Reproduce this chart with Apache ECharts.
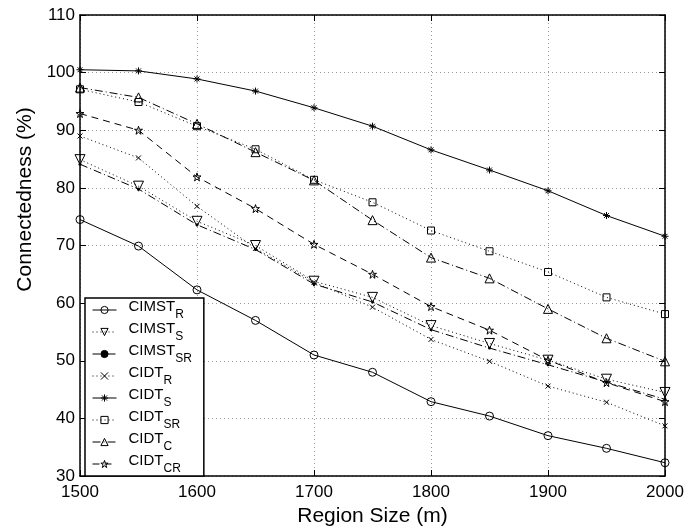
<!DOCTYPE html>
<html>
<head>
<meta charset="utf-8">
<script src="https://cdn.jsdelivr.net/npm/echarts@6/dist/echarts.min.js"></script>
<style>
  html, body { margin: 0; padding: 0; background: #fff; }
  #chart { width: 688px; height: 532px; }
</style>
</head>
<body>
<div id="chart"></div>
<script>
const regionSizes = [1500, 1550, 1600, 1650, 1700, 1750, 1800, 1850, 1900, 1950, 2000];

const cimstR  = [74.5, 69.9, 62.3, 57.0, 51.0, 48.0, 42.9, 40.4, 37.0, 34.8, 32.3];
const cimstS  = [84.9, 80.3, 74.2, 70.0, 63.8, 61.0, 56.1, 53.0, 50.1, 46.8, 44.5];
const cimstSR = [84.1, 79.8, 73.6, 69.3, 63.3, 60.2, 55.4, 52.2, 49.3, 46.3, 43.3];
const cidtR   = [89.0, 85.2, 76.8, 69.5, 63.6, 59.3, 53.7, 49.9, 45.6, 42.8, 38.7];
const cidtS   = [100.5, 100.3, 98.9, 96.8, 93.9, 90.7, 86.6, 83.1, 79.5, 75.2, 71.6];
const cidtSR  = [97.1, 94.9, 90.7, 86.7, 81.4, 77.5, 72.6, 69.0, 65.4, 61.0, 58.1];
const cidtC   = [97.4, 95.7, 91.1, 86.2, 81.3, 74.4, 67.9, 64.3, 59.0, 53.9, 49.9];
const cidtCR  = [92.9, 90.0, 81.9, 76.4, 70.2, 65.0, 59.4, 55.3, 50.1, 46.2, 42.9];

// marker outlines (unit boxes, stretched to symbolSize)
const SYM = {
  ring: 'path://M10,5 A5,5 0 1 1 0,5 A5,5 0 1 1 10,5 Z',
  down: 'path://M0,0 L10,0 L5,9 Z',
  up: 'path://M5,0 L10,9 L0,9 Z',
  square: 'path://M0,0 L10,0 L10,10 L0,10 Z',
  cross: 'path://M0,0 L10,10 M10,0 L0,10',
  aster: 'path://M5,0 L5,10 M0,5 L10,5 M1.5,1.5 L8.5,8.5 M8.5,1.5 L1.5,8.5',
  star: 'path://M5,0 L6.2,3.6 L10,3.6 L6.9,5.8 L8.1,9.5 L5,7.2 L1.9,9.5 L3.1,5.8 L0,3.6 L3.8,3.6 Z',
  dot: 'circle'
};

function mk(name, values, symbol, size, lineType, filled) {
  return {
    name: name,
    type: 'line',
    data: regionSizes.map((x, i) => [x, values[i]]),
    symbol: symbol,
    symbolSize: size,
    showAllSymbol: true,
    lineStyle: { color: '#000', width: 1, type: lineType },
    itemStyle: filled
      ? { color: '#000', borderColor: '#000', borderWidth: 0 }
      : { color: 'rgba(255,255,255,0)', borderColor: '#000', borderWidth: 1 },
    emphasis: { disabled: true },
    animation: false,
    z: 3
  };
}

const series = [
  mk('CIMST_R', cimstR, SYM.ring, 8, 'solid', false),
  mk('CIMST_S', cimstS, SYM.down, 10, [1, 3], false),
  mk('CIMST_SR', cimstSR, SYM.dot, 3, [8, 3, 1, 3], true),
  mk('CIDT_R', cidtR, SYM.cross, 5, [1, 3], false),
  mk('CIDT_S', cidtS, SYM.aster, 7, 'solid', false),
  mk('CIDT_SR', cidtSR, SYM.square, 7, [1, 3], false),
  mk('CIDT_C', cidtC, SYM.up, 9, [8, 3, 1, 3], false),
  mk('CIDT_CR', cidtCR, SYM.star, 8, [7, 5], false)
];

const font = 'Liberation Sans, Arial, Helvetica, sans-serif';
const chart = echarts.init(document.getElementById('chart'));

const tickCommon = { show: true, inside: true, length: 6, lineStyle: { color: '#000' } };
const splitCommon = { show: true, lineStyle: { color: '#999', type: [1, 3], width: 1 } };
const lineCommon = { show: true, onZero: false, lineStyle: { color: '#000', width: 1.5 } };
const labelCommon = { fontFamily: font, fontSize: 17, color: '#000', hideOverlap: false, formatter: v => String(v) };

chart.setOption({
  backgroundColor: '#fff',
  animation: false,
  grid: { left: 80, right: 23, top: 15, bottom: 55 },
  legend: {
    orient: 'vertical',
    left: 85,
    top: 298,
    itemWidth: 24,
    itemHeight: 9,
    itemGap: 0,
    padding: [1, 12, 1, 7],
    backgroundColor: '#fff',
    borderColor: '#000',
    borderWidth: 1.5,
    borderRadius: 0,
    inactiveColor: '#000',
    itemStyle: { borderWidth: 1 },
    lineStyle: { width: 1 },
    data: series.map(s => s.name),
    formatter: n => n.replace(/^(\w+?)_(\w+)$/, '{m|$1}{s|$2}'),
    textStyle: {
      fontFamily: font,
      fontSize: 15,
      color: '#000',
      rich: {
        m: { fontFamily: font, fontSize: 15, color: '#000', lineHeight: 22, verticalAlign: 'top', padding: [0, 0, 0, 7] },
        s: { fontFamily: font, fontSize: 12, color: '#000', lineHeight: 22, verticalAlign: 'bottom' }
      }
    }
  },
  xAxis: [
    {
      type: 'value',
      min: 1500, max: 2000, interval: 100,
      name: 'Region Size (m)',
      nameLocation: 'middle',
      nameGap: 30,
      nameTextStyle: { fontFamily: font, fontSize: 21, color: '#000' },
      axisLine: lineCommon,
      axisTick: tickCommon,
      splitLine: splitCommon,
      axisLabel: Object.assign({ margin: 8 }, labelCommon)
    },
    {
      type: 'value', position: 'top',
      min: 1500, max: 2000, interval: 100,
      axisLine: lineCommon,
      axisTick: tickCommon,
      splitLine: { show: false },
      axisLabel: { show: false }
    }
  ],
  yAxis: [
    {
      type: 'value',
      min: 30, max: 110, interval: 10,
      name: 'Connectedness (%)',
      nameLocation: 'middle',
      nameGap: 44,
      nameTextStyle: { fontFamily: font, fontSize: 21, color: '#000', padding: [0, 0, 0, 92] },
      axisLine: lineCommon,
      axisTick: tickCommon,
      splitLine: splitCommon,
      axisLabel: Object.assign({ margin: 5 }, labelCommon)
    },
    {
      type: 'value', position: 'right',
      min: 30, max: 110, interval: 10,
      axisLine: lineCommon,
      axisTick: tickCommon,
      splitLine: { show: false },
      axisLabel: { show: false }
    }
  ],
  series: series
});
</script>
</body>
</html>
